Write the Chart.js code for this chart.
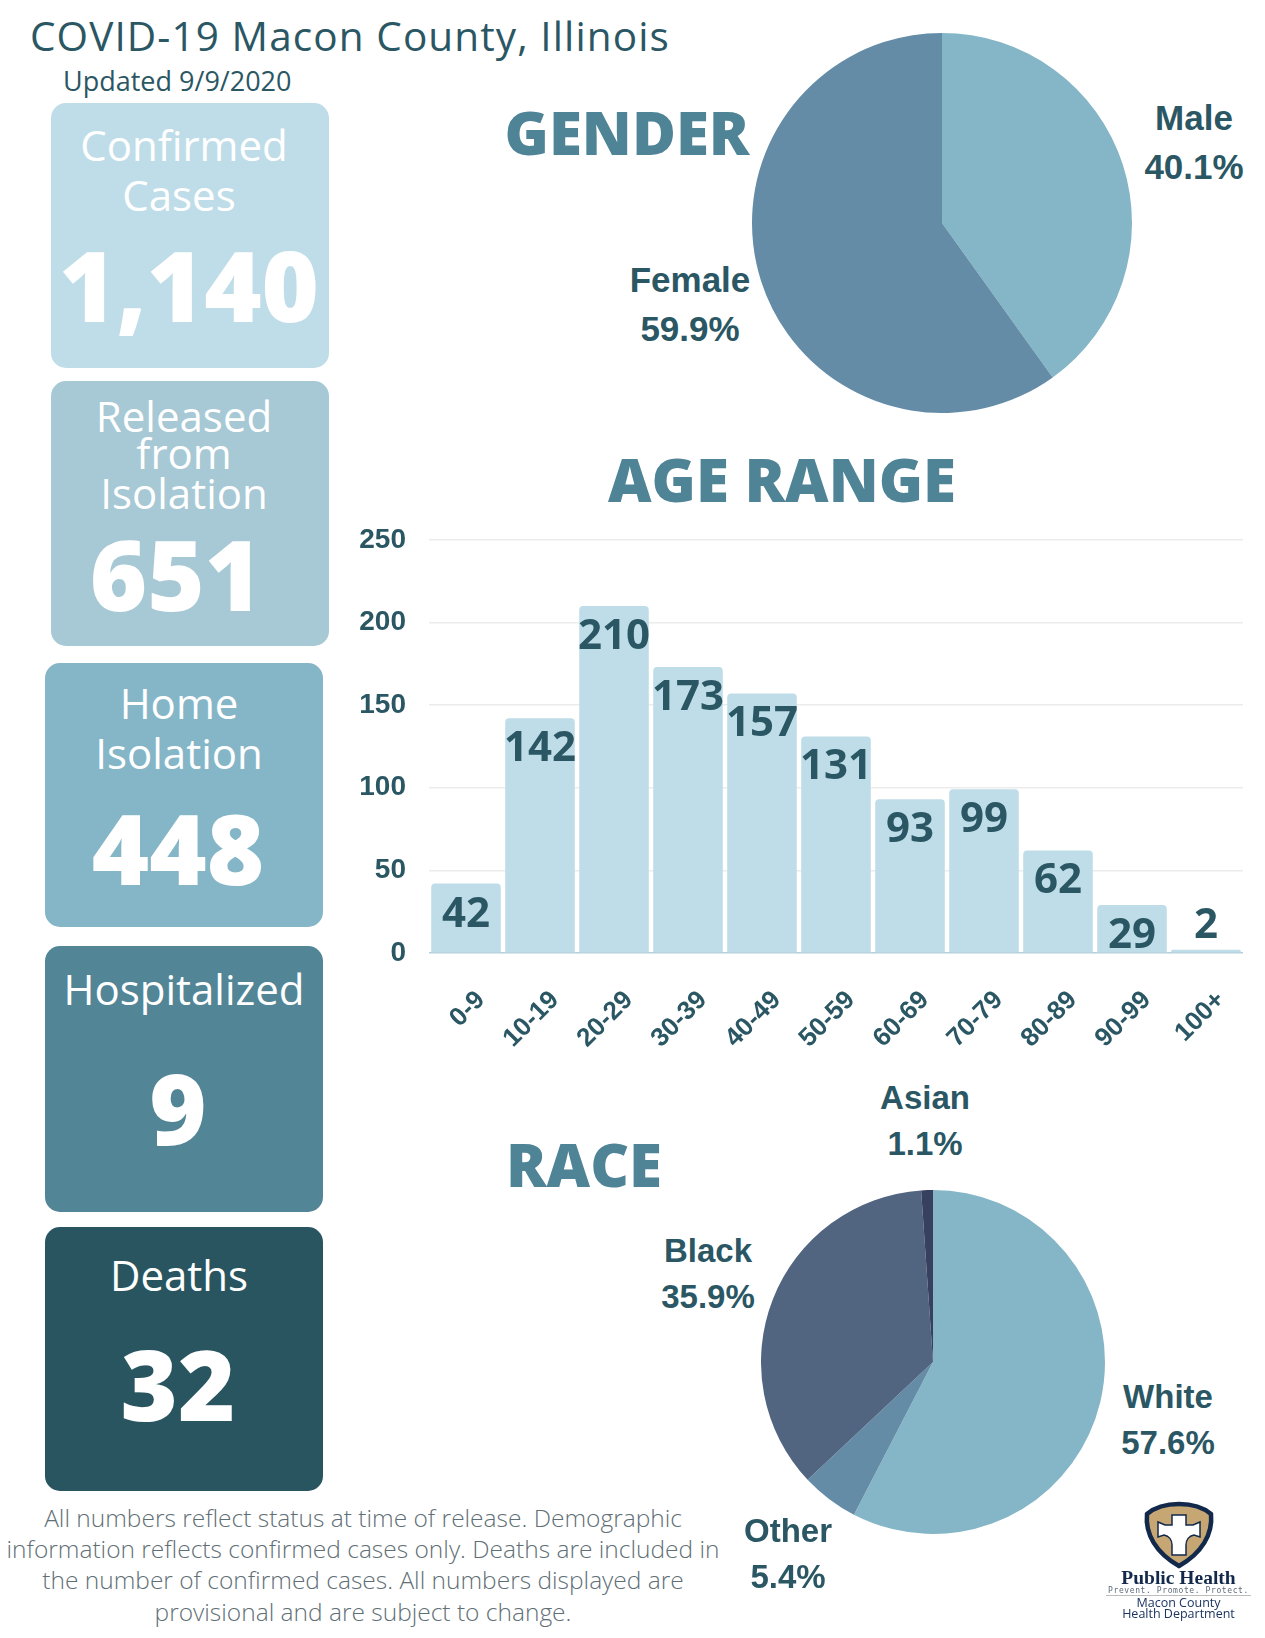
<!DOCTYPE html>
<html>
<head>
<meta charset="utf-8">
<title>COVID-19 Macon County, Illinois</title>
<script src="https://cdn.jsdelivr.net/npm/chart.js@4/dist/chart.umd.min.js"></script>
<style>
  html, body { margin: 0; padding: 0; background: #fff; }
  #page { position: relative; width: 1265px; height: 1638px; overflow: hidden; font-family: "Open Sans", sans-serif; }
  #page canvas { position: absolute; }
  .t { position: absolute; transform: translate(-50%, -50%); white-space: nowrap; line-height: 1; }
  .box { position: absolute; width: 278px; border-radius: 15px; }
  .cap { color: #fff; font-size: 42px; }
  .num { color: #fff; font-size: 98px; font-weight: 800; }
  .head { color: #4f8497; font-size: 60px; font-weight: 800; }
  .lab { color: #2a5763; font-family: "Liberation Sans", sans-serif; font-weight: 700; text-align: center; line-height: 49px; font-size: 35px; }
  .race { font-size: 33px; line-height: 46px; }
  .foot { color: #5f6f76; font-size: 24.5px; font-weight: 300; }
</style>
</head>
<body>
<div id="page">
  <div class="t" style="left:30px;top:36px;transform:translateY(-50%);font-size:40.5px;color:#2a5763;letter-spacing:1.1px">COVID-19 Macon County, Illinois</div>
  <div class="t" style="left:63px;top:80px;transform:translateY(-50%);font-size:27px;color:#2a5763">Updated 9/9/2020</div>

  <div class="box" style="left:51px;top:103px;height:265px;background:#bfdde8"></div>
  <div class="box" style="left:51px;top:381px;height:265px;background:#a7c8d5"></div>
  <div class="box" style="left:45px;top:663px;height:264px;background:#85b6c7"></div>
  <div class="box" style="left:45px;top:946px;height:266px;background:#528596"></div>
  <div class="box" style="left:45px;top:1227px;height:264px;background:#285560"></div>

  <div class="t cap" style="left:184px;top:145px">Confirmed</div>
  <div class="t cap" style="left:179px;top:195px">Cases</div>
  <div class="t num" id="stat0" style="left:189px;top:284px"></div>
  <div class="t cap" style="left:184px;top:416px">Released</div>
  <div class="t cap" style="left:184px;top:453px">from</div>
  <div class="t cap" style="left:184px;top:493px">Isolation</div>
  <div class="t num" id="stat1" style="left:176px;top:573px"></div>
  <div class="t cap" style="left:179px;top:703px">Home</div>
  <div class="t cap" style="left:179px;top:753px">Isolation</div>
  <div class="t num" id="stat2" style="left:178px;top:847px"></div>
  <div class="t cap" style="left:184px;top:989px">Hospitalized</div>
  <div class="t num" id="stat3" style="left:178px;top:1107px"></div>
  <div class="t cap" style="left:179px;top:1275px">Deaths</div>
  <div class="t num" id="stat4" style="left:178px;top:1383px"></div>

  <div class="t head" style="left:627px;top:132px">GENDER</div>
  <div class="t head" style="left:782px;top:479px">AGE RANGE</div>
  <div class="t head" style="left:584px;top:1164px">RACE</div>

  <canvas id="genderChart" width="380" height="380" style="left:752px;top:33px"></canvas>
  <canvas id="ageChart" width="925" height="560" style="left:340px;top:500px"></canvas>
  <canvas id="raceChart" width="344" height="344" style="left:761px;top:1190px"></canvas>

  <div class="t lab" id="lab-male" style="left:1194px;top:142px"></div>
  <div class="t lab" id="lab-female" style="left:690px;top:304px"></div>
  <div class="t lab race" id="lab-asian" style="left:925px;top:1121px"></div>
  <div class="t lab race" id="lab-black" style="left:708px;top:1274px"></div>
  <div class="t lab race" id="lab-white" style="left:1168px;top:1420px"></div>
  <div class="t lab race" id="lab-other" style="left:788px;top:1554px"></div>

  <div class="t foot" style="left:363px;top:1518px">All numbers reflect status at time of release. Demographic</div>
  <div class="t foot" style="left:363px;top:1549px">information reflects confirmed cases only. Deaths are included in</div>
  <div class="t foot" style="left:363px;top:1580px">the number of confirmed cases. All numbers displayed are</div>
  <div class="t foot" style="left:363px;top:1612px">provisional and are subject to change.</div>

  <!-- logo -->
  <svg style="position:absolute;left:1100px;top:1495px" width="165" height="143" viewBox="1100 1495 165 143">
    <path d="M1179 1504 C1192 1504 1204 1508 1211 1514 C1213 1534 1202 1553 1179 1566 C1156 1553 1145 1534 1147 1514 C1154 1508 1166 1504 1179 1504 Z" fill="#c6a672" stroke="#13294b" stroke-width="4.5"/>
    <path d="M1172 1515 h14 v10 h7 l7 -3 v15 l-6 -2 c-5 1 -8 5 -8 10 v10 h-14 v-10 c0 -5 -3 -9 -8 -10 l-6 2 v-15 l7 3 h7 Z" fill="#fff" stroke="#13294b" stroke-width="1.5"/>
    <text x="1178.5" y="1584" text-anchor="middle" font-family="Liberation Serif" font-weight="700" font-size="19.5" fill="#13294b">Public Health</text>
    <text x="1178.5" y="1593" text-anchor="middle" font-family="DejaVu Sans Mono" font-size="8" letter-spacing="0.6" fill="#5f6b7a">Prevent. Promote. Protect.</text>
    <line x1="1106" x2="1251" y1="1595.5" y2="1595.5" stroke="#bdbdbd" stroke-width="1"/>
    <text x="1178.5" y="1607" text-anchor="middle" font-family="Open Sans" font-size="12.5" fill="#1c3560">Macon County</text>
    <text x="1178.5" y="1618" text-anchor="middle" font-family="Open Sans" font-size="12.5" fill="#1c3560">Health Department</text>
  </svg>
</div>

<script>
const statValues = ['1,140', '651', '448', '9', '32'];

const genderLabels = ['Male', 'Female'];
const genderValues = [40.1, 59.9];

const ageLabels = ['0-9', '10-19', '20-29', '30-39', '40-49', '50-59', '60-69', '70-79', '80-89', '90-99', '100+'];
const ageCounts = [42, 142, 210, 173, 157, 131, 93, 99, 62, 29, 2];
const ageTicks = [0, 50, 100, 150, 200, 250];

const raceLabels = ['White', 'Other', 'Black', 'Asian'];
const raceValues = [57.6, 5.4, 35.9, 1.1];

const darkText = '#2a5763';

statValues.forEach((v, i) => { document.getElementById('stat' + i).textContent = v; });

// pie captions are html so they can sit outside the pie
function captions(labels, values) {
  labels.forEach((l, i) => {
    document.getElementById('lab-' + l.toLowerCase()).innerHTML = l + '<br>' + values[i].toFixed(1) + '%';
  });
}
captions(genderLabels, genderValues);
captions(raceLabels, raceValues);

// bar values sit inside the bar, the tiny last one goes on top
const barValues = {
  id: 'barValues',
  afterDatasetsDraw(chart) {
    const ctx = chart.ctx;
    ctx.save();
    ctx.font = '700 42px "Open Sans"';
    ctx.fillStyle = darkText;
    ctx.textAlign = 'center';
    ctx.textBaseline = 'middle';
    chart.getDatasetMeta(0).data.forEach((bar, i) => {
      const y = ageCounts[i] < 10 ? bar.y - 24 : bar.y + 31;
      ctx.fillText(ageCounts[i], bar.x, y);
    });
    ctx.restore();
  }
};

function pie(id, labels, values, colors) {
  return new Chart(document.getElementById(id), {
    type: 'pie',
    data: { labels: labels, datasets: [{ data: values, backgroundColor: colors, borderWidth: 0 }] },
    options: {
      responsive: false,
      animation: false,
      layout: { padding: 0 },
      plugins: { legend: { display: false }, tooltip: { enabled: false } }
    }
  });
}

pie('genderChart', genderLabels, genderValues, ['#85b6c7', '#648ca6']);
pie('raceChart', raceLabels, raceValues, ['#85b6c7', '#648ca6', '#516480', '#37405f']);

new Chart(document.getElementById('ageChart'), {
  type: 'bar',
  data: {
    labels: ageLabels,
    datasets: [{
      data: ageCounts,
      backgroundColor: '#bfdde8',
      borderRadius: { topLeft: 4, topRight: 4 },
      borderSkipped: 'bottom',
      categoryPercentage: 1,
      barPercentage: 0.94
    }]
  },
  options: {
    responsive: false,
    animation: false,
    layout: { autoPadding: false, padding: { top: 17, right: 22, left: 0, bottom: 0 } },
    plugins: { legend: { display: false }, tooltip: { enabled: false } },
    scales: {
      x: {
        afterFit(scale) { scale.height = 107; },
        grid: { display: false },
        border: { display: false },
        ticks: {
          minRotation: 45,
          maxRotation: 45,
          autoSkip: false,
          labelOffset: 15,
          padding: 24,
          color: darkText,
          font: { family: 'Liberation Sans', weight: '700', size: 26 }
        }
      },
      y: {
        min: 0,
        max: 250,
        afterFit(scale) { scale.width = 89; },
        afterBuildTicks(scale) { scale.ticks = ageTicks.map(v => ({ value: v })); },
        border: { display: false },
        grid: {
          drawTicks: false,
          lineWidth: 1.5,
          color: ctx => ctx.tick.value === 0 ? '#b5d0dc' : '#ececec'
        },
        ticks: {
          padding: 23,
          color: darkText,
          font: { family: 'Liberation Sans', weight: '700', size: 28 }
        }
      }
    }
  },
  plugins: [barValues]
});
</script>
</body>
</html>
